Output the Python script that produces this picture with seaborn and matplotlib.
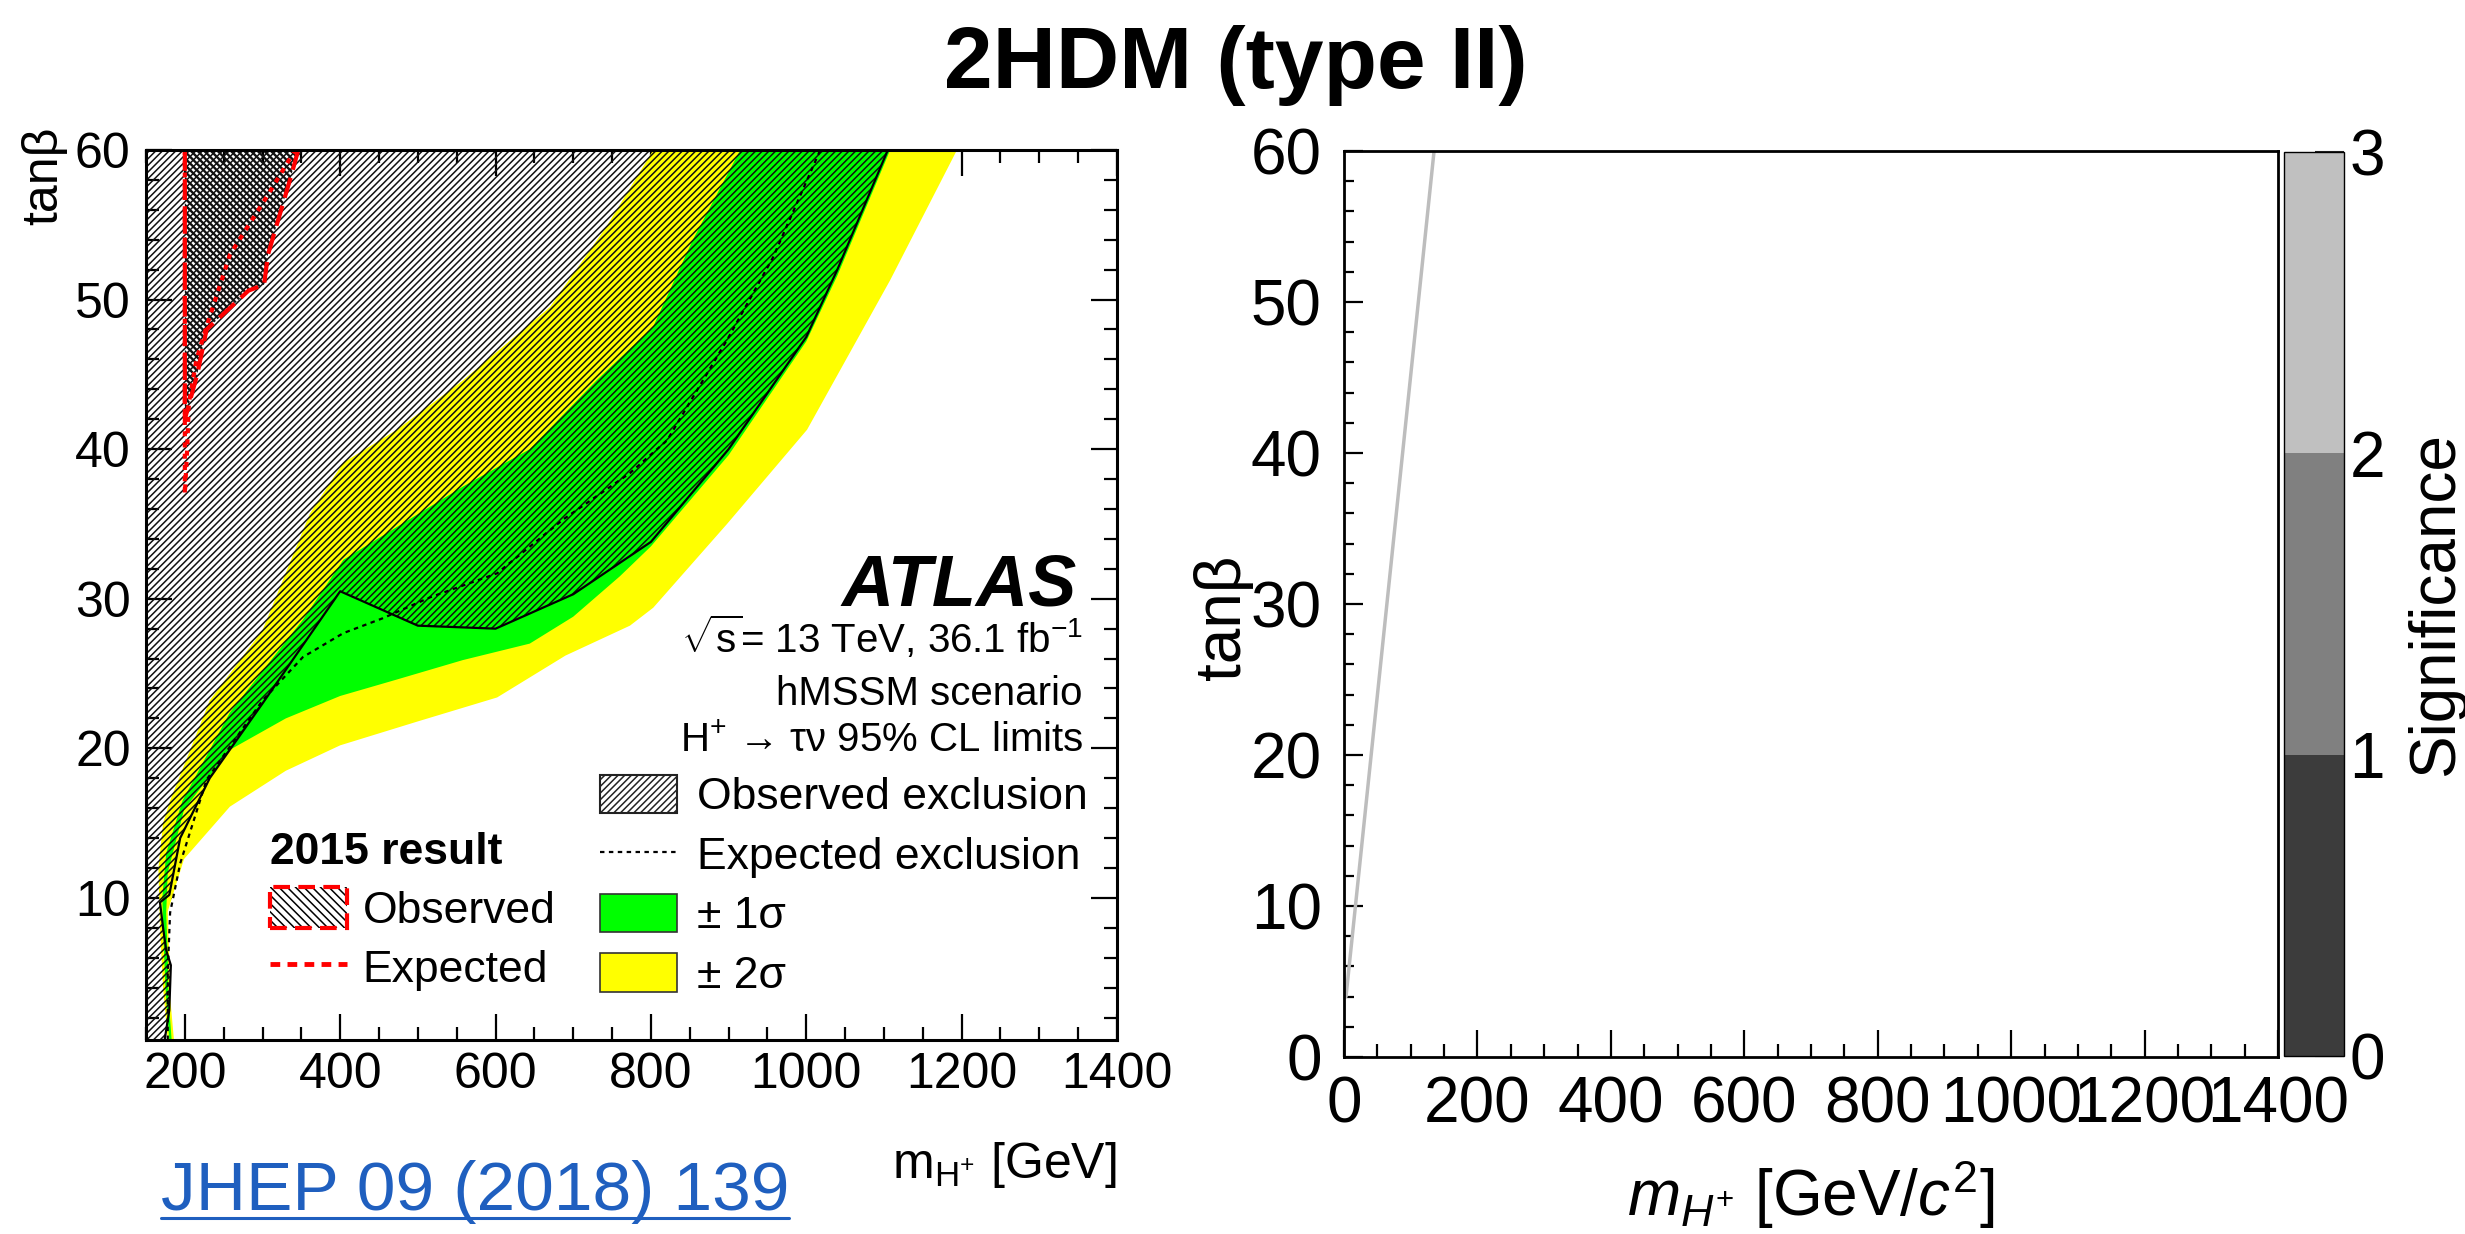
import numpy as np
import matplotlib
matplotlib.use("Agg")
import matplotlib.pyplot as plt
import seaborn as sns
from matplotlib.patches import Patch
from matplotlib.lines import Line2D
from matplotlib.colors import ListedColormap, BoundaryNorm
from matplotlib.cm import ScalarMappable
from matplotlib.ticker import MultipleLocator

# ---------------- data ----------------
# observed exclusion boundary (ATLAS 2018), from low tanb to tanb = 60
m_obs = [174, 180, 182, 176, 172, 168, 180, 194, 232, 300, 400, 500, 600, 700, 800, 900, 1000, 1040, 1105]
tb_obs = [0.5, 2.5, 5.5, 6.5, 8, 9.7, 10.2, 14, 18, 23, 30.5, 28.2, 28, 30.3, 33.8, 40, 47.5, 52, 60]

# expected exclusion
m_exp = [178, 178, 181, 194, 228, 300, 352, 404, 455, 516, 602, 687, 773, 821, 898, 957, 1018]
tb_exp = [0.5, 5, 9, 12.3, 17.9, 23.2, 26.1, 27.7, 28.7, 30.1, 31.7, 35.3, 38.4, 40.6, 47.3, 52.8, 60]

# -2 sigma / +2 sigma edges (yellow band)
m_y_up = [178, 172, 168, 166, 172, 181, 232, 300, 361, 404, 473, 558, 670, 743, 803]
tb_y_up = [0.5, 4, 8, 12, 15, 16.5, 23.2, 27.9, 35.7, 39.1, 41.3, 44.6, 49.5, 54.9, 60]
m_y_lo = [186, 181, 180, 178, 199, 258, 330, 400, 500, 602, 690, 773, 803, 898, 1001, 1108, 1194]
tb_y_lo = [0.5, 3.4, 6, 9.1, 12.6, 16.1, 18.5, 20.2, 21.8, 23.4, 26.2, 28.2, 29.4, 35, 41.3, 51.3, 60]

# -1 sigma / +1 sigma edges (green band)
m_g_up = [180, 175, 172, 171, 176, 197, 258, 352, 404, 473, 558, 644, 730, 803, 854, 915]
tb_g_up = [0.5, 4, 8, 10, 13, 16.5, 22.4, 28.6, 32.6, 34.8, 37.5, 40, 44.6, 48.2, 54, 60]
m_g_lo = [183, 179, 178, 176, 178, 199, 258, 330, 400, 473, 558, 644, 700, 760, 800, 900, 1000, 1040, 1108]
tb_g_lo = [0.5, 3.4, 6, 9, 11.7, 15.9, 19.9, 22, 23.5, 24.6, 25.9, 27, 28.8, 31.5, 33.5, 39.6, 47.2, 51.6, 60]

# 2015 result
m_obs15 = [200, 200, 216, 228, 282, 302, 307, 337, 346]
tb_obs15 = [60, 42, 45, 48, 50.6, 51, 53, 58.3, 60]
m_exp15 = [200, 200, 203, 205, 215, 228, 258, 307, 342]
tb_exp15 = [60, 37, 40, 43, 46, 48.2, 53, 57, 60]

# right panel
line_m = [3, 135]
line_tb = [4, 60]
sig_levels = [0, 1, 2, 3]
sig_colors = ["#3c3c3c", "#808080", "#c0c0c0"]

left_xlim = (150, 1400)
left_ylim = (0.5, 60)
right_xlim = (0, 1400)
right_ylim = (0, 60)

# ---------------- style ----------------
sns.set_theme(style="ticks")
plt.rcParams["font.family"] = ["Liberation Sans", "DejaVu Sans"]
plt.rcParams["mathtext.fontset"] = "custom"
plt.rcParams["mathtext.rm"] = "Liberation Sans"
plt.rcParams["mathtext.it"] = "Liberation Sans:italic"
plt.rcParams["mathtext.bf"] = "Liberation Sans:bold"
plt.rcParams["hatch.linewidth"] = 1.1
plt.rcParams["axes.edgecolor"] = "black"
plt.rcParams["xtick.color"] = "black"
plt.rcParams["ytick.color"] = "black"
plt.rcParams["text.color"] = "black"
plt.rcParams["axes.labelcolor"] = "black"
plt.rcParams["xtick.labelcolor"] = "black"
plt.rcParams["ytick.labelcolor"] = "black"

W, H = 2465, 1234
fig = plt.figure(figsize=(W / 100, H / 100), dpi=100)


def fx(px):
    return px / W


def fy(py):
    return 1 - py / H


# ---------------- left panel ----------------
axL = fig.add_axes([fx(146), fy(1040), (1117 - 146) / W, (1040 - 150) / H])
axL.set_xlim(*left_xlim)
axL.set_ylim(*left_ylim)

# yellow band
axL.fill(np.r_[m_y_up, m_y_lo[::-1]], np.r_[tb_y_up, tb_y_lo[::-1]],
         facecolor="#ffff00", edgecolor="none", zorder=1)
# green band
axL.fill(np.r_[m_g_up, m_g_lo[::-1]], np.r_[tb_g_up, tb_g_lo[::-1]],
         facecolor="#00ff00", edgecolor="none", zorder=2)
# observed exclusion (hatched)
ox = np.r_[m_obs, left_xlim[0], left_xlim[0]]
oy = np.r_[tb_obs, left_ylim[1], left_ylim[0]]
axL.fill(ox, oy, facecolor="none", edgecolor="#111111", hatch="/////", linewidth=0, zorder=3)
# 2015 observed (back-hatched, gives the dark cross-hatch)
with plt.rc_context({"hatch.linewidth": 1.7}):
    axL.fill(m_obs15, tb_obs15, facecolor="none", edgecolor="#111111", hatch="\\\\\\\\\\",
             linewidth=0, zorder=4)

sns.lineplot(x=m_exp, y=tb_exp, sort=False, estimator=None, color="black",
             linestyle=(0, (2, 2)), linewidth=1.6, ax=axL, zorder=5)
sns.lineplot(x=m_obs, y=tb_obs, sort=False, estimator=None, color="black",
             linewidth=1.6, ax=axL, zorder=6)
sns.lineplot(x=m_exp15, y=tb_exp15, sort=False, estimator=None, color="red",
             linestyle=(0, (1.2, 1.5)), linewidth=3, ax=axL, zorder=7)
sns.lineplot(x=m_obs15, y=tb_obs15, sort=False, estimator=None, color="red",
             linestyle=(0, (5, 2)), linewidth=3, ax=axL, zorder=8)

axL.xaxis.set_major_locator(MultipleLocator(200))
axL.xaxis.set_minor_locator(MultipleLocator(50))
axL.yaxis.set_major_locator(MultipleLocator(10))
axL.yaxis.set_minor_locator(MultipleLocator(2))
axL.tick_params(which="both", direction="in", top=True, right=True, width=1.6,
                labelsize=36)
axL.tick_params(which="major", length=18.7)
axL.tick_params(which="minor", length=9.4)
axL.tick_params(axis="x", pad=9)
axL.tick_params(axis="y", pad=11)
for s in axL.spines.values():
    s.set_linewidth(2.2)
    s.set_zorder(10)

axL.set_ylabel("tanβ", fontsize=36, loc="top")
axL.yaxis.set_label_coords(-0.0814, 1.026)
axL.set_xlabel(r"m$_{\mathrm{H^{+}}}$ [GeV]", fontsize=36, loc="right")
axL.xaxis.set_label_coords(1.0, -0.112)

# legends
h_obs = Patch(facecolor="white", edgecolor="#222222", hatch="/////", linewidth=1.5)
h_exp = Line2D([], [], color="black", linestyle=(0, (2, 2)), linewidth=1.6)
h_1s = Patch(facecolor="#00ff00", edgecolor="#333333", linewidth=1.2)
h_2s = Patch(facecolor="#ffff00", edgecolor="#333333", linewidth=1.2)
leg1 = axL.legend([h_obs, h_exp, h_1s, h_2s],
                  ["Observed exclusion", "Expected exclusion", "± 1σ", "± 2σ"],
                  loc="upper left", bbox_to_anchor=(fx(600), fy(775)),
                  bbox_transform=fig.transFigure, frameon=False, fontsize=32,
                  handlelength=1.73, handleheight=0.95, handletextpad=0.45,
                  labelspacing=0.36, borderpad=0, borderaxespad=0)
axL.add_artist(leg1)

h_obs15 = (Patch(facecolor="white", edgecolor="black", hatch="\\\\\\\\", linewidth=0),
           Patch(facecolor="none", edgecolor="red", linewidth=3, linestyle=(0, (4, 2))))
h_exp15 = Line2D([], [], color="red", linestyle=(0, (2, 1.5)), linewidth=3.5)
leg2 = axL.legend([h_obs15, h_exp15], ["Observed", "Expected"],
                  title="2015 result", title_fontproperties={"weight": "bold", "size": 32},
                  alignment="left", loc="upper left", bbox_to_anchor=(fx(270), fy(832)),
                  bbox_transform=fig.transFigure, frameon=False, fontsize=32,
                  handlelength=1.73, handleheight=1.05, handletextpad=0.35,
                  labelspacing=0.32, borderpad=0, borderaxespad=0)

# annotations
fig.text(fx(1077), fy(605), "ATLAS", ha="right", va="baseline", fontsize=52,
         fontweight="bold", fontstyle="italic")
fig.text(fx(1083), fy(653), r"$\sqrt{\mathrm{s}}$= 13 TeV, 36.1 fb$^{\mathrm{-1}}$",
         ha="right", va="baseline", fontsize=29)
fig.text(fx(1083), fy(705), "hMSSM scenario", ha="right", va="baseline", fontsize=29)
fig.text(fx(1083), fy(752), r"H$^{+}$ → τν 95% CL limits", ha="right", va="baseline",
         fontsize=29)

# ---------------- right panel ----------------
axR = fig.add_axes([fx(1344), fy(1057), (2278 - 1344) / W, (1057 - 151) / H])
axR.set_xlim(*right_xlim)
axR.set_ylim(*right_ylim)
sns.lineplot(x=line_m, y=line_tb, sort=False, estimator=None, color="#bdbdbd",
             linewidth=2.5, ax=axR)
axR.xaxis.set_major_locator(MultipleLocator(200))
axR.xaxis.set_minor_locator(MultipleLocator(50))
axR.yaxis.set_major_locator(MultipleLocator(10))
axR.yaxis.set_minor_locator(MultipleLocator(2))
axR.tick_params(which="both", direction="in", width=1.6, labelsize=46)
axR.tick_params(axis="x", which="major", length=19.4, pad=13)
axR.tick_params(axis="x", which="minor", length=9.4)
axR.tick_params(axis="y", which="major", length=13.7, pad=16)
axR.tick_params(axis="y", which="minor", length=7.2)
for s in axR.spines.values():
    s.set_linewidth(2.0)
axR.set_xlabel(r"$m_{H^{+}}$ [GeV/$c^{2}$]", fontsize=46)
axR.xaxis.set_label_coords(0.5, -0.111)
axR.set_ylabel("tanβ", fontsize=46)
axR.yaxis.set_label_coords(-0.097, 0.485)

cax = fig.add_axes([fx(2284), fy(1056), 60 / W, (1056 - 152) / H])
cmap = ListedColormap(sig_colors)
norm = BoundaryNorm(sig_levels, cmap.N)
cb = fig.colorbar(ScalarMappable(norm=norm, cmap=cmap), cax=cax, ticks=sig_levels)
cb.outline.set_linewidth(1.0)
cax.tick_params(direction="in", length=21, width=1.5, color="#222222", labelsize=46, pad=4)
cb.set_label("Significance", fontsize=46)
cax.yaxis.set_label_coords(2.03, 0.5)

# ---------------- title & reference ----------------
fig.text(fx(1236), fy(88), "2HDM (type II)", ha="center", va="baseline", fontsize=63,
         fontweight="bold")
ref = fig.text(fx(161), fy(1210), "JHEP 09 (2018) 139", ha="left", va="baseline",
               fontsize=50, color="#1f5fbf")
fig.canvas.draw()
bb = ref.get_window_extent()
uy = fy(1218)
fig.add_artist(Line2D([bb.x0 / W, bb.x1 / W], [uy, uy], transform=fig.transFigure,
                      color="#1f5fbf", linewidth=2.2))

fig.savefig("out.png", dpi=100)
